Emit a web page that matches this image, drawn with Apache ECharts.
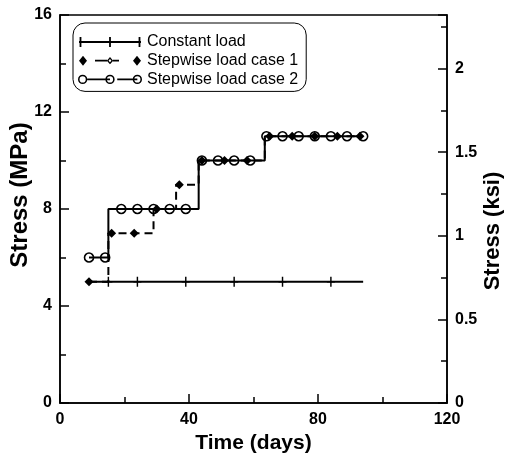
<!DOCTYPE html>
<html>
<head>
<meta charset="utf-8">
<script src="https://cdn.jsdelivr.net/npm/echarts@6/dist/echarts.min.js"></script>
<style>
html,body{margin:0;padding:0;background:#fff;}
#chart{width:507px;height:456px;}
</style>
</head>
<body>
<div id="chart"></div>
<script>
// ---- data ----
const xTicks = [0, 40, 80, 120];
const yTicksMPa = [0, 4, 8, 12, 16];
const yTicksKsi = [0, 0.5, 1, 1.5, 2];
const MPA_PER_KSI = 6.894757;

const constDays = [15, 24, 39, 54, 69, 84];
const constStress = [5, 5, 5, 5, 5, 5];
const constLineDays = [9, 94];
const constLineStress = [5, 5];

const case1Days = [9, 16, 23, 30, 37, 44, 51, 58, 65, 72, 79, 86, 93];
const case1Stress = [5, 7, 7, 8, 9, 10, 10, 10, 11, 11, 11, 11, 11];
const case1StepDays = [15, 29, 36, 43, 63.5];

const case2Days = [9, 14, 19, 24, 29, 34, 39, 44, 49, 54, 59, 64, 69, 74, 79, 84, 89, 94];
const case2Stress = [6, 6, 8, 8, 8, 8, 8, 10, 10, 10, 10, 11, 11, 11, 11, 11, 11, 11];
const case2StepDays = [15, 43, 63.5];

const names = ['Constant load', 'Stepwise load case 1', 'Stepwise load case 2'];

// ---- build step paths ----
function buildStep(days, stress, steps) {
  const out = [];
  for (let i = 0; i < days.length; i++) {
    out.push({ value: [days[i], stress[i]] });
    if (i < days.length - 1 && stress[i + 1] !== stress[i]) {
      const s = steps.find(d => d > days[i] && d < days[i + 1]);
      out.push({ value: [s, stress[i]], symbol: 'none' });
      out.push({ value: [s, stress[i + 1]], symbol: 'none' });
    }
  }
  return out;
}
function buildConst() {
  const pts = [];
  pts.push({ value: [constLineDays[0], constLineStress[0]], symbol: 'none' });
  constDays.forEach((d, i) => pts.push({ value: [d, constStress[i]] }));
  pts.push({ value: [constLineDays[1], constLineStress[1]], symbol: 'none' });
  return pts;
}

// ---- legend icon shapes (62 x 10 icon box) ----
function rect(x0, x1, y0, y1) { return `M${x0},${y0}H${x1}V${y1}H${x0}Z`; }
function diamond(cx, hw, hh) { return `M${cx - hw},5L${cx},${5 - hh}L${cx + hw},5L${cx},${5 + hh}Z`; }
function diamondHole(cx, hw, hh) { return `M${cx - hw},5L${cx},${5 + hh}L${cx + hw},5L${cx},${5 - hh}Z`; }
function ring(cx, r, t) {
  const ri = r - t;
  return `M${cx - r},5A${r},${r},0,1,1,${cx + r},5A${r},${r},0,1,1,${cx - r},5Z` +
         `M${cx - ri},5A${ri},${ri},0,1,0,${cx + ri},5A${ri},${ri},0,1,0,${cx - ri},5Z`;
}
const iconConst = 'path://' + rect(0, 62, 4.1, 5.9) + rect(0.6, 2.4, 0, 10) + rect(30.1, 31.9, 0, 10) + rect(59.6, 61.4, 0, 10);
const iconCase1 = 'path://' + diamond(4, 4, 5) + rect(16, 28, 4.1, 5.9) + diamond(31, 3.2, 3.6) + diamondHole(31, 1.4, 1.6) + rect(34, 40, 4.1, 5.9) + diamond(58, 4, 5);
const iconCase2 = 'path://' + ring(4.5, 4.5, 1.5) + rect(9, 31, 4.1, 5.9) + ring(31, 4.5, 1.5) + rect(38, 57.5, 4.1, 5.9) + ring(57.5, 4.5, 1.5);

const FONT = 'Liberation Sans, Arial, Helvetica, sans-serif';
const PLUS = 'path://M0,4.2H10V5.8H0Z M4.1,0H5.9V10H4.1Z';

const chart = echarts.init(document.getElementById('chart'), null, { renderer: 'canvas' });
const ksiMax = 16 / MPA_PER_KSI;
const legendItemStyle = { color: '#000', borderWidth: 0 };

const option = {
  animation: false,
  backgroundColor: '#fff',
  grid: { left: 60, right: 60, top: 15, bottom: 53, show: true, borderColor: '#000', borderWidth: 1.5,
          backgroundColor: 'transparent', containLabel: false, outerBoundsMode: 'none' },
  legend: {
    data: [
      { name: names[0], icon: iconConst, itemStyle: legendItemStyle },
      { name: names[1], icon: iconCase1, itemStyle: legendItemStyle },
      { name: names[2], icon: iconCase2, itemStyle: legendItemStyle }
    ],
    orient: 'vertical',
    left: 73, top: 23,
    itemWidth: 64, itemHeight: 10, itemGap: 2.7,
    padding: [11, 8, 4, 5],
    borderColor: '#000', borderWidth: 1, borderRadius: 12,
    backgroundColor: '#fff',
    textStyle: { fontFamily: FONT, fontSize: 16, color: '#000' }
  },
  xAxis: {
    type: 'value', min: xTicks[0], max: xTicks[xTicks.length - 1], interval: xTicks[1] - xTicks[0],
    name: 'Time (days)', nameLocation: 'middle', nameGap: 30, nameMoveOverlap: false,
    nameTextStyle: { fontFamily: FONT, fontSize: 21, fontWeight: 'bold', color: '#000' },
    axisLine: { lineStyle: { color: '#000', width: 1.5 } },
    axisTick: { inside: true, length: 9, lineStyle: { color: '#000', width: 1.5 } },
    minorTick: { show: true, splitNumber: 2, length: 6, lineStyle: { color: '#000', width: 1.5 } },
    splitLine: { show: false },
    axisLabel: { fontFamily: FONT, fontSize: 16, fontWeight: 'bold', color: '#000', margin: 9 }
  },
  yAxis: [
    {
      type: 'value', min: yTicksMPa[0], max: yTicksMPa[yTicksMPa.length - 1], interval: yTicksMPa[1] - yTicksMPa[0],
      position: 'left',
      name: 'Stress (MPa)', nameLocation: 'middle', nameGap: 28, nameRotate: 90, nameMoveOverlap: false,
      nameTextStyle: { fontFamily: FONT, fontSize: 24, fontWeight: 'bold', color: '#000', padding: [0, 0, 0, 28] },
      axisLine: { show: true, lineStyle: { color: '#000', width: 1.5 } },
      axisTick: { inside: true, length: 9, lineStyle: { color: '#000', width: 1.5 } },
      minorTick: { show: true, splitNumber: 2, length: 6, lineStyle: { color: '#000', width: 1.5 } },
      splitLine: { show: false },
      axisLabel: { fontFamily: FONT, fontSize: 16, fontWeight: 'bold', color: '#000', margin: 8 }
    },
    {
      type: 'value', min: yTicksKsi[0], max: ksiMax, interval: yTicksKsi[1] - yTicksKsi[0],
      position: 'right',
      name: 'Stress (ksi)', nameLocation: 'middle', nameGap: 35, nameRotate: 90, nameMoveOverlap: false,
      nameTextStyle: { fontFamily: FONT, fontSize: 22, fontWeight: 'bold', color: '#000', padding: [0, 44, 0, 0] },
      axisLine: { show: true, lineStyle: { color: '#000', width: 1.5 } },
      axisTick: { inside: true, length: 9, lineStyle: { color: '#000', width: 1.5 } },
      splitLine: { show: false },
      axisLabel: {
        fontFamily: FONT, fontSize: 16, fontWeight: 'bold', color: '#000', margin: 8,
        formatter: v => (yTicksKsi.some(t => Math.abs(t - v) < 1e-6) ? String(v) : '')
      }
    },
    {
      type: 'value', min: yTicksKsi[0], max: ksiMax, interval: (yTicksKsi[1] - yTicksKsi[0]) / 2,
      position: 'right',
      axisLine: { show: false },
      axisTick: { inside: true, length: 6, lineStyle: { color: '#000', width: 1.5 } },
      splitLine: { show: false },
      axisLabel: { show: false }
    }
  ],
  series: [
    {
      name: names[0], type: 'line', data: buildConst(),
      symbol: PLUS, symbolSize: [8, 10], showAllSymbol: true,
      lineStyle: { color: '#000', width: 2 },
      itemStyle: { color: '#000' }, z: 2
    },
    {
      name: names[1], type: 'line', data: buildStep(case1Days, case1Stress, case1StepDays),
      symbol: 'diamond', symbolSize: 9, showAllSymbol: true,
      lineStyle: { color: '#000', width: 2, type: [8, 5] },
      itemStyle: { color: '#000' }, z: 3
    },
    {
      name: names[2], type: 'line', data: buildStep(case2Days, case2Stress, case2StepDays),
      symbol: 'circle', symbolSize: 9, showAllSymbol: true,
      lineStyle: { color: '#000', width: 2 },
      itemStyle: { color: 'rgba(0,0,0,0)', borderColor: '#000', borderWidth: 1.6 }, z: 4
    }
  ]
};
chart.setOption(option);
</script>
</body>
</html>
